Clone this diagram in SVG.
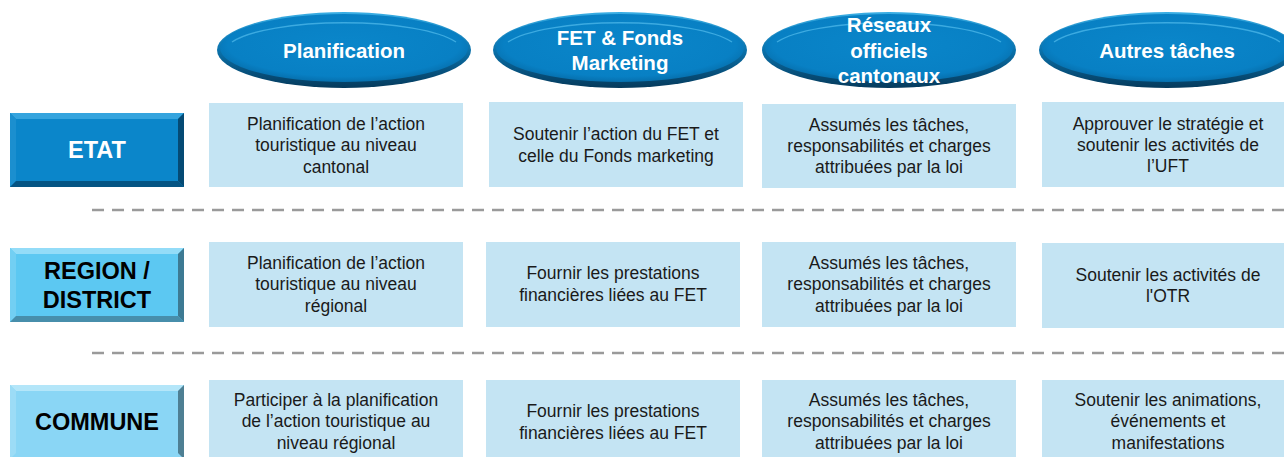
<svg xmlns="http://www.w3.org/2000/svg" width="1284" height="457" viewBox="0 0 1284 457">
<defs>
<radialGradient id="ellG" cx="0.5" cy="0.45" r="0.55">
<stop offset="0" stop-color="#0A86CA"/>
<stop offset="0.85" stop-color="#0880C4"/>
<stop offset="1" stop-color="#0670AE"/>
</radialGradient>
<linearGradient id="ellShadow" x1="0" y1="0" x2="0" y2="1">
<stop offset="0" stop-color="#3AAEE4"/>
<stop offset="0.5" stop-color="#0A72AC"/>
<stop offset="1" stop-color="#053A5C"/>
</linearGradient>
<style>
.ell-bg{fill:url(#ellShadow);}
.ell{fill:url(#ellG);}
.ell-hl{fill:none;stroke:#4DB8EA;stroke-width:1.4;opacity:0.75;}
.hdr{font-family:"Liberation Sans",Arial,sans-serif;font-weight:bold;font-size:20.5px;fill:#FFFFFF;text-anchor:middle;}
.box{fill:#C4E4F3;}
.txt{font-family:"Liberation Sans",Arial,sans-serif;font-size:17.5px;fill:#1A1A1A;text-anchor:middle;}
.lvl{font-family:"Liberation Sans",Arial,sans-serif;font-weight:bold;font-size:23.5px;text-anchor:middle;}
.dash{stroke:#9A9A9A;stroke-width:2.5;stroke-dasharray:12 8;fill:none;}
</style>
</defs>
<rect width="1284" height="457" fill="#FFFFFF"/>

<g id="separators">
<line class="dash" x1="92" y1="210" x2="1284" y2="210"/>
<line class="dash" x1="92" y1="353" x2="1284" y2="353"/>
</g>

<!-- Column headers -->
<g id="hdr-planification">
<ellipse class="ell-bg" cx="344" cy="50" rx="127" ry="38"/>
<ellipse class="ell" cx="344" cy="48" rx="124" ry="34"/>
<path class="ell-hl" d="M232 42 A119 29 0 0 1 456 42"/>
<text class="hdr" x="344" y="58">Planification</text>
</g>
<g id="hdr-fet">
<ellipse class="ell-bg" cx="620" cy="50" rx="127" ry="38"/>
<ellipse class="ell" cx="620" cy="48" rx="124" ry="34"/>
<path class="ell-hl" d="M508 42 A119 29 0 0 1 732 42"/>
<text class="hdr" x="620" y="45">FET &amp; Fonds</text>
<text class="hdr" x="620" y="70">Marketing</text>
</g>
<g id="hdr-reseaux">
<ellipse class="ell-bg" cx="889" cy="50" rx="127" ry="38"/>
<ellipse class="ell" cx="889" cy="48" rx="124" ry="34"/>
<path class="ell-hl" d="M777 42 A119 29 0 0 1 1001 42"/>
<text class="hdr" x="889" y="32">Réseaux</text>
<text class="hdr" x="889" y="58">officiels</text>
<text class="hdr" x="889" y="83">cantonaux</text>
</g>
<g id="hdr-autres">
<ellipse class="ell-bg" cx="1167" cy="50" rx="128" ry="38"/>
<ellipse class="ell" cx="1167" cy="48" rx="125" ry="34"/>
<path class="ell-hl" d="M1054 42 A120 29 0 0 1 1280 42"/>
<text class="hdr" x="1167" y="58">Autres tâches</text>
</g>

<!-- Level labels -->
<g id="lvl-etat">
<rect x="10" y="113" width="174" height="74" fill="#0B86CA"/>
<polygon points="10,113 184,113 178,119 16,119" fill="#35A4DE"/>
<polygon points="10,113 16,119 16,181 10,187" fill="#1B8FCF"/>
<polygon points="184,113 184,187 178,181 178,119" fill="#054A74"/>
<polygon points="10,187 184,187 178,181 16,181" fill="#055483"/>
<text class="lvl" x="97" y="158" fill="#FFFFFF">ETAT</text>
</g>
<g id="lvl-region">
<rect x="10" y="248" width="174" height="74" fill="#5CC8F2"/>
<polygon points="10,248 184,248 178,254 16,254" fill="#93DCF8"/>
<polygon points="10,248 16,254 16,316 10,322" fill="#72CFF3"/>
<polygon points="184,248 184,322 178,316 178,254" fill="#3D7A93"/>
<polygon points="10,322 184,322 178,316 16,316" fill="#478EAB"/>
<text class="lvl" x="97" y="279" fill="#000000">REGION /</text>
<text class="lvl" x="97" y="308" fill="#000000">DISTRICT</text>
</g>
<g id="lvl-commune">
<rect x="10" y="385" width="174" height="74" fill="#8AD6F5"/>
<polygon points="10,385 184,385 178,391 16,391" fill="#B4E6F9"/>
<polygon points="10,385 16,391 16,453 10,459" fill="#9CDCF6"/>
<polygon points="184,385 184,459 178,453 178,391" fill="#4E7F93"/>
<text class="lvl" x="97" y="430" fill="#000000">COMMUNE</text>
</g>

<!-- Row ETAT -->
<g id="etat-planification">
<rect class="box" x="209" y="103" width="254" height="84"/>
<text class="txt" x="336" y="130">Planification de l’action</text>
<text class="txt" x="336" y="151">touristique au niveau</text>
<text class="txt" x="336" y="173">cantonal</text>
</g>
<g id="etat-fet">
<rect class="box" x="489" y="102" width="254" height="85"/>
<text class="txt" x="616" y="140">Soutenir l’action du FET et</text>
<text class="txt" x="616" y="162">celle du Fonds marketing</text>
</g>
<g id="etat-reseaux">
<rect class="box" x="762" y="104" width="254" height="84"/>
<text class="txt" x="889" y="131">Assumés les tâches,</text>
<text class="txt" x="889" y="152">responsabilités et charges</text>
<text class="txt" x="889" y="173">attribuées par la loi</text>
</g>
<g id="etat-autres">
<rect class="box" x="1042" y="102" width="254" height="85"/>
<text class="txt" x="1168" y="130">Approuver le stratégie et</text>
<text class="txt" x="1168" y="151">soutenir les activités de</text>
<text class="txt" x="1168" y="172">l’UFT</text>
</g>

<!-- Row REGION -->
<g id="region-planification">
<rect class="box" x="209" y="242" width="254" height="85"/>
<text class="txt" x="336" y="269">Planification de l’action</text>
<text class="txt" x="336" y="290">touristique au niveau</text>
<text class="txt" x="336" y="312">régional</text>
</g>
<g id="region-fet">
<rect class="box" x="486" y="242" width="254" height="85"/>
<text class="txt" x="613" y="279">Fournir les prestations</text>
<text class="txt" x="613" y="301">financières liées au FET</text>
</g>
<g id="region-reseaux">
<rect class="box" x="762" y="242" width="254" height="85"/>
<text class="txt" x="889" y="269">Assumés les tâches,</text>
<text class="txt" x="889" y="290">responsabilités et charges</text>
<text class="txt" x="889" y="312">attribuées par la loi</text>
</g>
<g id="region-autres">
<rect class="box" x="1042" y="243" width="254" height="85"/>
<text class="txt" x="1168" y="281">Soutenir les activités de</text>
<text class="txt" x="1168" y="302">l'OTR</text>
</g>

<!-- Row COMMUNE -->
<g id="commune-planification">
<rect class="box" x="209" y="380" width="254" height="85"/>
<text class="txt" x="336" y="406">Participer à la planification</text>
<text class="txt" x="336" y="427">de l’action touristique au</text>
<text class="txt" x="336" y="449">niveau régional</text>
</g>
<g id="commune-fet">
<rect class="box" x="486" y="380" width="254" height="85"/>
<text class="txt" x="613" y="417">Fournir les prestations</text>
<text class="txt" x="613" y="439">financières liées au FET</text>
</g>
<g id="commune-reseaux">
<rect class="box" x="762" y="380" width="254" height="85"/>
<text class="txt" x="889" y="406">Assumés les tâches,</text>
<text class="txt" x="889" y="427">responsabilités et charges</text>
<text class="txt" x="889" y="449">attribuées par la loi</text>
</g>
<g id="commune-autres">
<rect class="box" x="1042" y="380" width="254" height="85"/>
<text class="txt" x="1168" y="406">Soutenir les animations,</text>
<text class="txt" x="1168" y="427">événements et</text>
<text class="txt" x="1168" y="449">manifestations</text>
</g>
</svg>
